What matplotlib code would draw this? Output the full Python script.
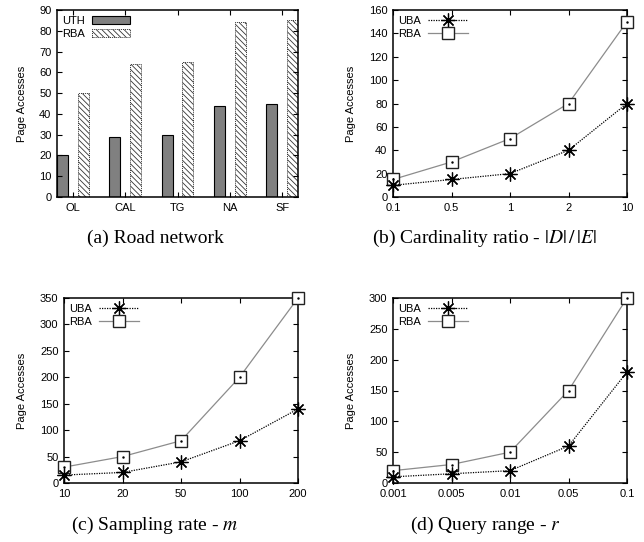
import numpy as np
import matplotlib
matplotlib.use("Agg")
import matplotlib.pyplot as plt
from matplotlib.lines import Line2D

plt.rcParams['font.family'] = ['Liberation Sans', 'DejaVu Sans']
plt.rcParams['mathtext.fontset'] = 'stix'
plt.rcParams['hatch.linewidth'] = 0.6

# (a) road network
networks = ['OL', 'CAL', 'TG', 'NA', 'SF']
uth_a = [20, 29, 30, 44, 45]
rba_a = [50, 64, 65, 84, 85]

# (b) cardinality ratio
card_ticks = ['0.1', '0.5', '1', '2', '10']
uba_b = [10, 15, 20, 40, 80]
rba_b = [15, 30, 50, 80, 150]

# (c) sampling rate
samp_ticks = ['10', '20', '50', '100', '200']
uba_c = [15, 20, 40, 80, 140]
rba_c = [30, 50, 80, 200, 350]

# (d) query range
range_ticks = ['0.001', '0.005', '0.01', '0.05', '0.1']
uba_d = [10, 15, 20, 60, 180]
rba_d = [20, 30, 50, 150, 300]

W, H = 644, 542
fig = plt.figure(figsize=(W / 100, H / 100), dpi=100)


def box(l, r, t, b):
    return [l / W, 1 - b / H, (r - l) / W, (b - t) / H]


def style(ax):
    ax.tick_params(direction='in', top=True, right=True, length=3.5, width=0.8,
                   labelsize=8, pad=4)
    for s in ax.spines.values():
        s.set_linewidth(1.1)
    ax.set_ylabel('Page Accesses', fontsize=8, labelpad=9)


# bar chart
ax = fig.add_axes(box(57, 298, 10, 197))
x = np.arange(len(networks))
ax.bar(x - 0.2, uth_a, 0.21, color='#808080', edgecolor='black', linewidth=0.8, label='UTH')
ax.bar(x + 0.2, rba_a, 0.21, color='white', edgecolor='#333333', linewidth=0.7,
       linestyle=(0, (1, 1)), hatch='\\\\\\\\\\\\', label='RBA')
ax.set_xlim(-0.3, 4.3)
ax.set_ylim(0, 90)
ax.set_yticks(range(0, 91, 10))
ax.set_xticks(x)
ax.set_xticklabels(networks)
style(ax)
ax.legend(loc='upper left', frameon=False, fontsize=8, markerfirst=False,
          handlelength=3.4, handleheight=0.7, borderaxespad=0.2, labelspacing=0.3,
          handletextpad=0.6, borderpad=0.3)

star = (8, 2, 0)


def line_panel(rect, ticks, uba, rba, ymax, ystep):
    ax = fig.add_axes(rect)
    xs = np.arange(len(ticks))
    ax.plot(xs, rba, color='#8c8c8c', lw=0.9, marker='s', ms=8.5, mfc='white',
            mec='#222222', mew=1.0, clip_on=False, zorder=3)
    ax.plot(xs, uba, color='black', lw=0.9, ls=(0, (1, 1)), marker=star, ms=10,
            mec='black', mew=0.9, clip_on=False, zorder=4)
    # gnuplot style centre dots
    ax.plot(xs, rba, ls='none', marker='.', ms=1.5, color='black', clip_on=False, zorder=5)
    ax.set_xlim(0, len(ticks) - 1)
    ax.set_ylim(0, ymax)
    ax.set_yticks(np.arange(0, ymax + 1, ystep))
    ax.set_xticks(xs)
    ax.set_xticklabels(ticks)
    style(ax)
    hs = [Line2D([], [], color='black', lw=0.9, ls=(0, (1, 1)), marker=star, ms=10, mew=0.9),
          Line2D([], [], color='#8c8c8c', lw=0.9, marker='s', ms=8.5, mfc='white', mec='#222222')]
    ax.legend(hs, ['UBA', 'RBA'], loc='upper left', frameon=False, fontsize=8,
              markerfirst=False, handlelength=3.6, borderaxespad=0.2,
              labelspacing=0.3, handletextpad=0.6, borderpad=0.3)
    return ax


line_panel(box(393, 627, 10, 197), card_ticks, uba_b, rba_b, 160, 20)
line_panel(box(64, 298, 298, 483), samp_ticks, uba_c, rba_c, 350, 50)
line_panel(box(393, 627, 298, 483), range_ticks, uba_d, rba_d, 300, 50)

cap = dict(ha='center', va='center', fontsize=14, family=['Liberation Serif', 'DejaVu Serif'])
fig.text(155 / W, 1 - 238 / H, '(a) Road network', **cap)
fig.text(484 / W, 1 - 238 / H, r'(b) Cardinality ratio - $|D|\,/\,|E|$', **cap)
fig.text(155 / W, 1 - 525 / H, '(c) Sampling rate - $m$', **cap)
fig.text(485 / W, 1 - 525 / H, '(d) Query range - $r$', **cap)

fig.savefig('out.png', dpi=100)
